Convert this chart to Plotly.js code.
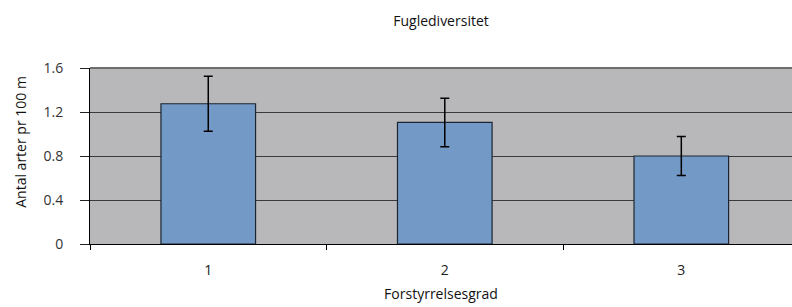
<!DOCTYPE html>
<html>
<head>
<meta charset="utf-8">
<script src="https://cdn.plot.ly/plotly-3.0.1.min.js"></script>
<style>html,body{margin:0;padding:0;background:#fff;}#chart{width:792px;height:307px;}</style>
</head>
<body>
<div id="chart"></div>
<script>
const categories = ["1", "2", "3"];
const values = [1.275, 1.105, 0.80];
const errors = [0.25, 0.22, 0.178];
const yTicks = [0, 0.4, 0.8, 1.2, 1.6];
const yTickLabels = ["0", "0.4", "0.8", "1.2", "1.6"];

const fontFam = "'Open Sans', 'Noto Sans', sans-serif";

const trace = {
  type: "bar",
  x: categories,
  y: values,
  marker: { color: "#7399c6", line: { color: "#1c2633", width: 1.2 } },
  error_y: { type: "data", array: errors, visible: true, color: "#000", thickness: 1.5, width: 4.5 },
  hoverinfo: "none"
};

const layout = {
  width: 792, height: 307,
  margin: { l: 90, r: 0, t: 68, b: 63 },
  paper_bgcolor: "#fff",
  plot_bgcolor: "#b8b8ba",
  bargap: 0.6,
  showlegend: false,
  font: { family: fontFam, size: 14, color: "#222" },
  title: { text: "Fuglediversitet", font: { family: fontFam, size: 14, color: "#111" }, x: 0.5, xanchor: "center", y: 0.93, yanchor: "middle", xref: "paper" },
  xaxis: {
    type: "category",
    range: [-0.5, 2.468],
    tickson: "boundaries",
    ticks: "outside", ticklen: 5, tickcolor: "#000", tickwidth: 1,
    showline: true, linecolor: "#000", linewidth: 1,
    showgrid: false, zeroline: false,
    ticklabelstandoff: 13,
    tickfont: { family: fontFam, size: 14, color: "#222" },
    title: { text: "Forstyrrelsesgrad", font: { family: fontFam, size: 14, color: "#111" }, standoff: 11 }
  },
  yaxis: {
    range: [0, 1.6],
    tickvals: yTicks, ticktext: yTickLabels,
    ticks: "outside", ticklen: 9, tickcolor: "#222", tickwidth: 1,
    showline: true, linecolor: "#000", linewidth: 1,
    showgrid: true, gridcolor: "#3a3a3a", gridwidth: 1,
    zeroline: false,
    ticklabelstandoff: 14,
    tickfont: { family: fontFam, size: 14, color: "#333" }
  },
  annotations: [
    { text: "Antal arter pr 100 m", xref: "paper", yref: "paper", x: -0.099, y: 0.578,
      xanchor: "center", yanchor: "middle", textangle: -90, showarrow: false,
      font: { family: fontFam, size: 14, color: "#111" } }
  ],
  shapes: [
    { type: "line", xref: "paper", yref: "paper", x0: 0, x1: 1, y0: 1, y1: 1, line: { color: "#6e6e6e", width: 2 }, layer: "above" }
  ]
};

Plotly.newPlot("chart", [trace], layout, { displayModeBar: false, staticPlot: true });
</script>
</body>
</html>
